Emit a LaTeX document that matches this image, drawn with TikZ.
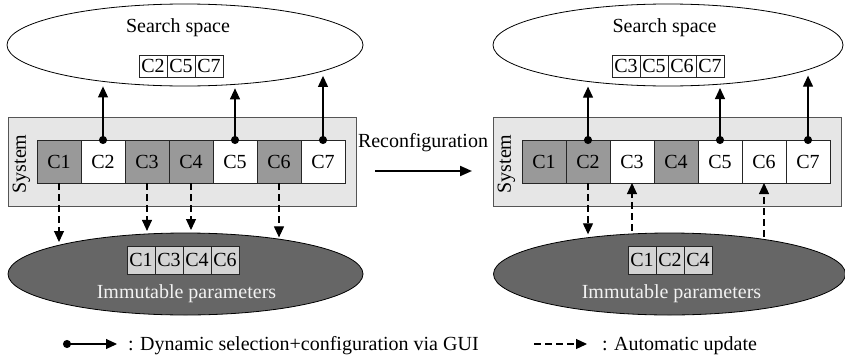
\documentclass[tikz,border=0pt]{standalone}
\usepackage{fontspec}
\setmainfont{Liberation Serif}
\usetikzlibrary{arrows.meta,shapes.geometric}
\definecolor{sysgray}{HTML}{E6E6E6}
\definecolor{compdark}{HTML}{999999}
\definecolor{immdark}{HTML}{666666}
\definecolor{celllight}{HTML}{D3D3D3}
\definecolor{bordergray}{HTML}{555555}
\begin{document}
\begin{tikzpicture}[x=1pt,y=-1pt,
  every node/.style={font=\fontsize{20}{24}\selectfont, inner sep=0pt, outer sep=0pt},
  comp/.style={draw=black!85, line width=0.8pt, minimum width=44pt, minimum height=43pt},
  fixedcomp/.style={comp, fill=compdark},
  freecomp/.style={comp, fill=white},
  cell/.style={draw=black!85, line width=0.7pt, minimum width=28pt, minimum height=22pt},
  immcell/.style={cell, fill=celllight, minimum height=28pt},
  sysbox/.style={draw=bordergray, fill=sysgray, line width=1pt, minimum width=348pt, minimum height=89pt},
  searchsp/.style={ellipse, draw, line width=0.8pt, fill=white, minimum height=82pt},
  immsp/.style={ellipse, draw, line width=0.8pt, fill=immdark, minimum height=82pt},
  sel/.style={{Circle[length=8pt]}-{Triangle[length=11pt,width=10pt]}, line width=1.1pt, shorten <=-4pt},
  upd/.style={-{Triangle[length=11pt,width=10pt]}, line width=1.1pt, dash pattern=on 7pt off 4pt},
  reconf/.style={-{Triangle[length=12pt,width=10pt]}, line width=2pt}
]
\useasboundingbox (0,0) rectangle (845,359);

% ---------------- left ----------------
\node[searchsp, minimum width=356pt] (ssL) at (185,45) {};
\node (ssLt) at (178,27.5) {Search space};
\node[cell] (sL2) at (153,66) {C2};
\node[cell] (sL5) at (181,66) {C5};
\node[cell] (sL7) at (209,66) {C7};

\node[immsp, minimum width=355pt] (imL) at (185.5,274) {};
\node[immcell] (iL1) at (141,260) {C1};
\node[immcell] (iL3) at (169,260) {C3};
\node[immcell] (iL4) at (197,260) {C4};
\node[immcell] (iL6) at (225,260) {C6};
\node[text=white!95!black] (imLt) at (186.5,294) {Immutable parameters};

\node[sysbox] (sysL) at (182,161.5) {};
\node[rotate=90] (sysLt) at (21.5,164) {System};
\node[fixedcomp] (L1) at (59,161.5) {C1};
\node[freecomp]  (L2) at (103,161.5) {C2};
\node[fixedcomp] (L3) at (147,161.5) {C3};
\node[fixedcomp] (L4) at (191,161.5) {C4};
\node[freecomp]  (L5) at (235,161.5) {C5};
\node[fixedcomp] (L6) at (279,161.5) {C6};
\node[freecomp]  (L7) at (323,161.5) {C7};

\draw[sel, shorten >=5pt] (L2.north) -- (L2.north |- ssL.-156.1);
\draw[sel, shorten >=4pt] (L5.north) -- (L5.north |- ssL.-38.5);
\draw[sel, shorten >=6pt] (L7.north) -- (L7.north |- ssL.-10.6);

\draw[upd, shorten >=3pt] (L1.south) -- (L1.south |- imL.167.2);
\draw[upd, shorten >=3pt] (L3.south) -- (L3.south |- imL.133.9);
\draw[upd, shorten >=3pt] (L4.south) -- (L4.south |- imL.83.0);
\draw[upd, shorten >=2pt] (L6.south) -- (L6.south |- imL.20.4);

% ---------------- middle ----------------
\node[anchor=base] (rct) at (423,147) {Reconfiguration};
\coordinate (ra) at (375,171);
\coordinate (rb) at (472,171);
\draw[reconf] (ra) -- (rb);

% ---------------- right ----------------
\node[searchsp, minimum width=350pt] (ssR) at (668,45) {};
\node (ssRt) at (664.5,27.5) {Search space};
\node[cell] (sR3) at (626,66) {C3};
\node[cell] (sR5) at (654,66) {C5};
\node[cell] (sR6) at (682,66) {C6};
\node[cell] (sR7) at (710,66) {C7};

\node[immsp, minimum width=352pt] (imR) at (669.5,274) {};
\node[immcell] (iR1) at (642,260) {C1};
\node[immcell] (iR2) at (670,260) {C2};
\node[immcell] (iR4) at (698,260) {C4};
\node[text=white!95!black] (imRt) at (671.5,294) {Immutable parameters};

\node[sysbox] (sysR) at (667,161.5) {};
\node[rotate=90] (sysRt) at (506.5,164) {System};
\node[fixedcomp] (R1) at (544,161.5) {C1};
\node[fixedcomp] (R2) at (588,161.5) {C2};
\node[freecomp]  (R3) at (632,161.5) {C3};
\node[fixedcomp] (R4) at (676,161.5) {C4};
\node[freecomp]  (R5) at (720,161.5) {C5};
\node[freecomp]  (R6) at (764,161.5) {C6};
\node[freecomp]  (R7) at (808,161.5) {C7};

\draw[sel, shorten >=5pt] (R2.north) -- (R2.north |- ssR.-155.1);
\draw[sel, shorten >=4pt] (R5.north) -- (R5.north |- ssR.-36.7);
\draw[sel, shorten >=6pt] (R7.north) -- (R7.north |- ssR.-10.0);

\draw[upd, shorten >=3pt] (R2.south) -- (R2.south |- imR.155.6);
\draw[upd, shorten <=3pt] (R3.south |- imR.132.7) -- (R3.south);
\draw[upd, shorten <=2pt] (R6.south |- imR.21.1) -- (R6.south);

% ---------------- legend ----------------
\coordinate (la) at (67,344);
\coordinate (lb) at (117,344);
\draw[sel] (la) -- (lb);
\node[anchor=base west] (lat) at (128,350) {: Dynamic selection+configuration via GUI};
\coordinate (lc) at (534,344);
\coordinate (ld) at (587,344);
\draw[upd] (lc) -- (ld);
\node[anchor=base west] (lct) at (602,350) {: Automatic update};
\end{tikzpicture}
\end{document}
